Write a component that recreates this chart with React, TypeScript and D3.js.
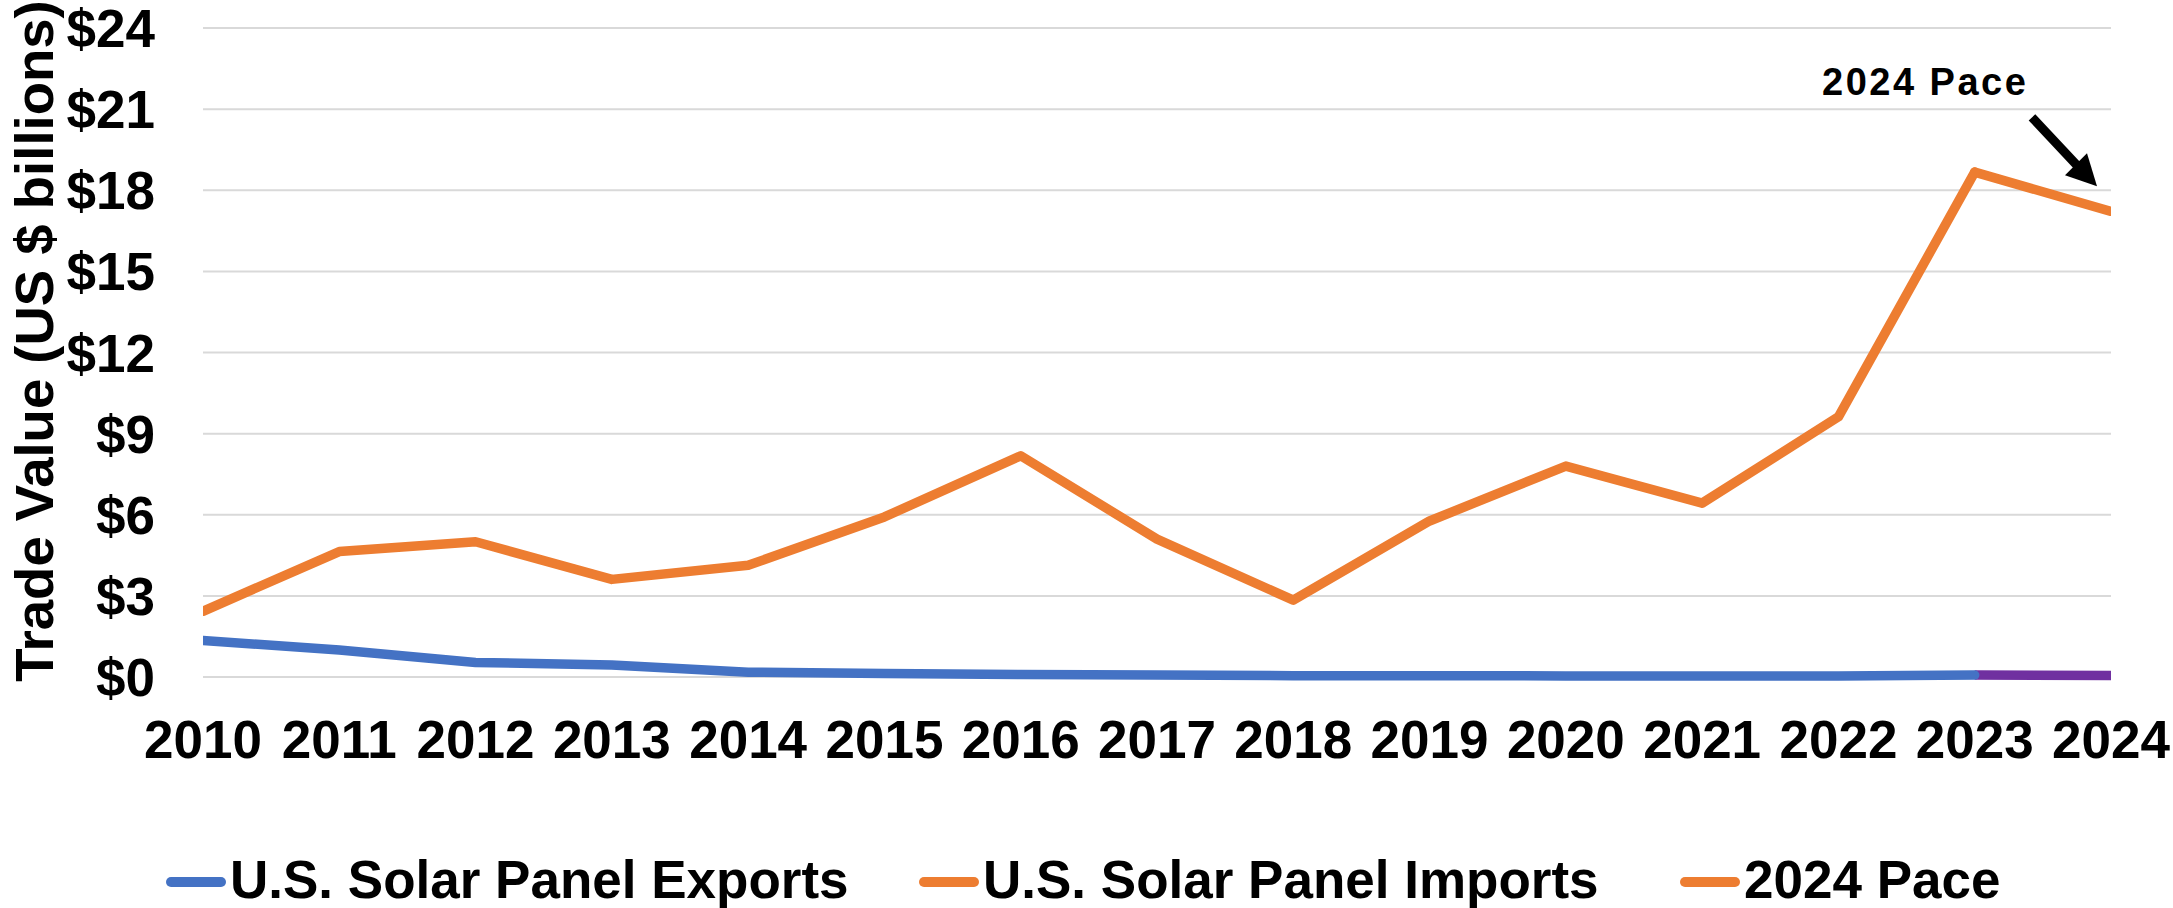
import * as d3 from 'd3';
import { useEffect, useRef } from 'react';

const years = ['2010', '2011', '2012', '2013', '2014', '2015', '2016', '2017', '2018', '2019', '2020', '2021', '2022', '2023', '2024'];

// 2010 - 2023 actuals
const exportsVals = [1.35, 1.0, 0.54, 0.44, 0.18, 0.13, 0.09, 0.07, 0.05, 0.05, 0.04, 0.04, 0.04, 0.07];
const importsVals = [2.43, 4.64, 5.0, 3.61, 4.13, 5.92, 8.18, 5.1, 2.84, 5.77, 7.8, 6.43, 9.62, 18.67];

// 2023 -> 2024 pace segments
const paceImports = [18.67, 17.22];
const paceExports = [0.07, 0.06];

const yTicks = [0, 3, 6, 9, 12, 15, 18, 21, 24];

const legendItems = [
  { label: 'U.S. Solar Panel Exports', color: '#4472C4', x0: 166 },
  { label: 'U.S. Solar Panel Imports', color: '#ED7D31', x0: 919 },
  { label: '2024 Pace', color: '#ED7D31', x0: 1680 },
];

const W = 2173;
const H = 908;
const FONT = '"Liberation Sans", Arial, sans-serif';

export default function App() {
  const ref = useRef<SVGSVGElement>(null);

  useEffect(() => {
    if (!ref.current) return;
    const svg = d3.select(ref.current);
    svg.selectAll('*').remove();

    const x = d3.scalePoint<string>().domain(years).range([203, 2111]);
    const y = d3.scaleLinear().domain([0, 24]).range([677, 28]);

    // clip to plot area
    svg
      .append('defs')
      .append('clipPath')
      .attr('id', 'plotclip')
      .append('rect')
      .attr('x', 203)
      .attr('y', 0)
      .attr('width', 2111 - 203)
      .attr('height', 700);

    // grid
    svg
      .append('g')
      .selectAll('line')
      .data(yTicks)
      .join('line')
      .attr('x1', 203)
      .attr('x2', 2111)
      .attr('y1', (d) => y(d))
      .attr('y2', (d) => y(d))
      .attr('stroke', '#D9D9D9')
      .attr('stroke-width', 2);

    // y labels
    svg
      .append('g')
      .selectAll('text')
      .data(yTicks)
      .join('text')
      .attr('x', 155)
      .attr('y', (d) => y(d))
      .attr('dy', '0.36em')
      .attr('text-anchor', 'end')
      .attr('font-family', FONT)
      .attr('font-weight', 'bold')
      .attr('font-size', 53)
      .text((d) => `$${d}`);

    // x labels
    svg
      .append('g')
      .selectAll('text')
      .data(years)
      .join('text')
      .attr('x', (d) => x(d) ?? 0)
      .attr('y', 758)
      .attr('text-anchor', 'middle')
      .attr('font-family', FONT)
      .attr('font-weight', 'bold')
      .attr('font-size', 53)
      .text((d) => d);

    // y title
    svg
      .append('text')
      .attr('transform', `translate(53, 341) rotate(-90)`)
      .attr('text-anchor', 'middle')
      .attr('font-family', FONT)
      .attr('font-weight', 'bold')
      .attr('font-size', 54.5)
      .text('Trade Value (US $ billions)');

    const line = d3
      .line<[string, number]>()
      .x((d) => x(d[0]) ?? 0)
      .y((d) => y(d[1]));

    const lines = svg.append('g').attr('clip-path', 'url(#plotclip)');
    const pace = years.slice(13);

    lines
      .append('path')
      .datum(pace.map((yr, i) => [yr, paceImports[i]] as [string, number]))
      .attr('d', line)
      .attr('fill', 'none')
      .attr('stroke', '#ED7D31')
      .attr('stroke-width', 9.5)
      .attr('stroke-linejoin', 'round')
      .attr('stroke-linecap', 'round');

    lines
      .append('path')
      .datum(importsVals.map((v, i) => [years[i], v] as [string, number]))
      .attr('d', line)
      .attr('fill', 'none')
      .attr('stroke', '#ED7D31')
      .attr('stroke-width', 9.5)
      .attr('stroke-linejoin', 'round')
      .attr('stroke-linecap', 'round');

    lines
      .append('path')
      .datum(pace.map((yr, i) => [yr, paceExports[i]] as [string, number]))
      .attr('d', line)
      .attr('fill', 'none')
      .attr('stroke', '#7030A0')
      .attr('stroke-width', 9.5)
      .attr('stroke-linecap', 'butt');

    lines
      .append('path')
      .datum(exportsVals.map((v, i) => [years[i], v] as [string, number]))
      .attr('d', line)
      .attr('fill', 'none')
      .attr('stroke', '#4472C4')
      .attr('stroke-width', 9.5)
      .attr('stroke-linejoin', 'round')
      .attr('stroke-linecap', 'round');

    // annotation
    const tipX = (x('2024') ?? 0) - 14;
    const tipY = y(paceImports[1]) - 25;
    svg
      .append('text')
      .attr('x', tipX - 275)
      .attr('y', tipY - 91)
      .attr('font-family', FONT)
      .attr('font-weight', 'bold')
      .attr('font-size', 38)
      .attr('letter-spacing', 2.5)
      .text('2024 Pace');
    svg
      .append('line')
      .attr('x1', tipX - 65)
      .attr('y1', tipY - 69)
      .attr('x2', tipX - 20)
      .attr('y2', tipY - 21)
      .attr('stroke', '#000')
      .attr('stroke-width', 9);
    svg
      .append('path')
      .attr(
        'd',
        `M${tipX},${tipY} L${tipX - 32},${tipY - 11} L${tipX - 10},${tipY - 33} Z`,
      )
      .attr('fill', '#000');

    // legend
    const lg = svg
      .append('g')
      .selectAll('g')
      .data(legendItems)
      .join('g');
    lg.append('line')
      .attr('x1', (d) => d.x0 + 5)
      .attr('x2', (d) => d.x0 + 55)
      .attr('y1', 882)
      .attr('y2', 882)
      .attr('stroke', (d) => d.color)
      .attr('stroke-width', 10)
      .attr('stroke-linecap', 'round');
    lg.append('text')
      .attr('x', (d) => d.x0 + 64)
      .attr('y', 898)
      .attr('font-family', FONT)
      .attr('font-weight', 'bold')
      .attr('font-size', 53)
      .text((d) => d.label);
  }, []);

  return (
    <svg
      ref={ref}
      width={W}
      height={H}
      style={{ position: 'absolute', left: 0, top: 0, background: '#fff' }}
    />
  );
}
